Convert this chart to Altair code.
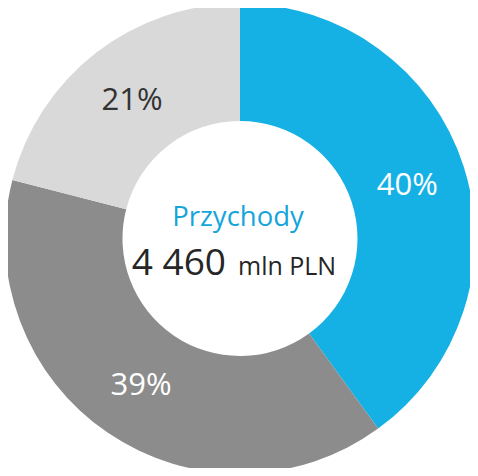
import altair as alt
import pandas as pd

categories = ["A", "B", "C"]
shares = [40, 39, 21]
labels = ["40%", "39%", "21%"]
slice_colors = ["#16B1E4", "#8C8C8C", "#D9D9D9"]
label_colors = ["#FFFFFF", "#FFFFFF", "#333333"]
order_idx = [0, 1, 2]

center_title = "Przychody"
center_value = "4 460"
center_unit = "mln PLN"

df = pd.DataFrame({
    "cat": categories,
    "share": shares,
    "label": labels,
    "lcolor": label_colors,
    "ord": order_idx,
})

FONT = "Open Sans"
CX, CY = 232, 230.5

base = alt.Chart(df).encode(
    theta=alt.Theta("share:Q", stack=True),
    order=alt.Order("ord:Q", sort="ascending"),
    x=alt.value(CX),
    y=alt.value(CY),
)

arcs = base.mark_arc(innerRadius=117.5, outerRadius=235, stroke=None).encode(
    color=alt.Color("cat:N", scale=alt.Scale(domain=categories, range=slice_colors), legend=None)
)

texts = base.mark_text(radius=176, dy=2, font=FONT, fontSize=31, align="center", baseline="middle").encode(
    text="label:N",
    color=alt.Color("lcolor:N", scale=None),
)

t1 = alt.Chart(pd.DataFrame({"t": [center_title]})).mark_text(
    font=FONT, fontSize=27.5, color="#16A5DB", align="center", baseline="alphabetic"
).encode(text="t:N", x=alt.value(230), y=alt.value(218))

t2 = alt.Chart(pd.DataFrame({"t": [center_value]})).mark_text(
    font=FONT, fontSize=37, color="#262626", align="right", baseline="alphabetic"
).encode(text="t:N", x=alt.value(218), y=alt.value(267))

t3 = alt.Chart(pd.DataFrame({"t": [center_unit]})).mark_text(
    font=FONT, fontSize=25, color="#262626", align="left", baseline="alphabetic"
).encode(text="t:N", x=alt.value(230), y=alt.value(267))

chart = alt.layer(arcs, texts, t1, t2, t3).resolve_scale(color="independent").properties(
    width=462, height=460, padding=0,
    autosize=alt.AutoSizeParams(type="none"),
).configure_view(stroke=None)

chart.save("out.html", embed_options={"renderer": "svg", "actions": False})
